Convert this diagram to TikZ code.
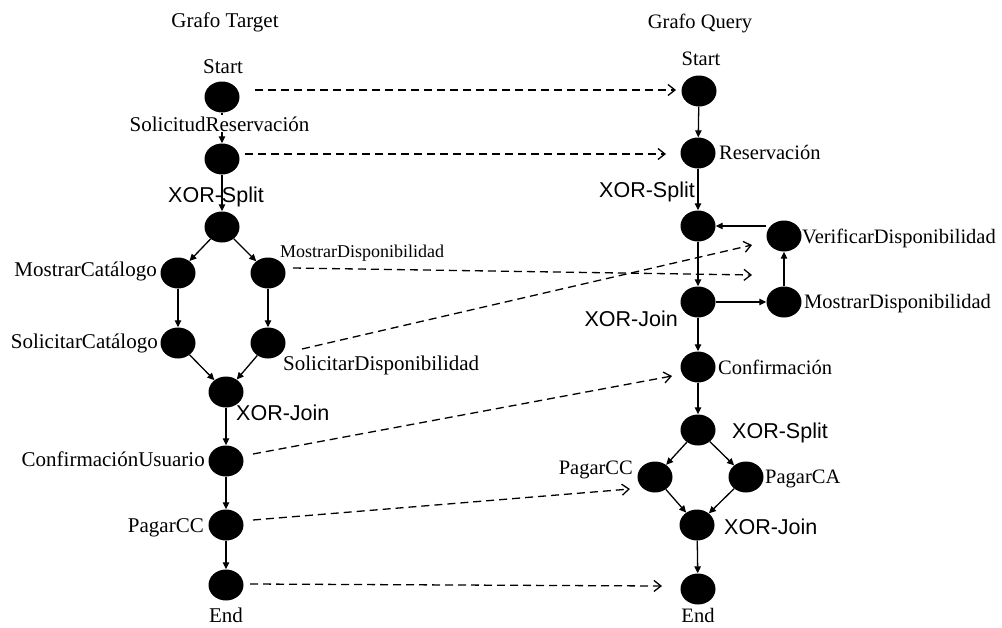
\documentclass[tikz,border=0pt]{standalone}
\usepackage{fontspec}
\setmainfont{Liberation Serif}
\newfontfamily\gatefont{Liberation Sans}
\usetikzlibrary{shapes.geometric,arrows.meta}
\begin{document}
\begin{tikzpicture}[x=1pt,y=-1pt,
  vtx/.style={ellipse,fill=black,minimum width=35pt,minimum height=31pt,inner sep=0pt},
  flow/.style={line width=1.3pt,-{Triangle[length=7pt,width=6.5pt]}},
  map/.style={line width=1.3pt,dash pattern=on 8pt off 5pt,-{Straight Barb[length=7pt,width=11pt,line width=1.3pt]}},
  lblL/.style={inner sep=0pt,font=\fontsize{21}{24}\selectfont},
  lblS/.style={inner sep=0pt,font=\fontsize{18}{21}\selectfont},
  lblR/.style={inner sep=0pt,font=\fontsize{20.5}{24}\selectfont},
  gate/.style={inner sep=0pt,font=\gatefont\fontsize{21.5}{24}\selectfont},
]
\useasboundingbox (0,0) rectangle (1002,627);

% ---- target graph vertices
\node[vtx] (T1)  at (222,97)  {};
\node[vtx] (T2)  at (222,159) {};
\node[vtx] (T3)  at (222,227) {};
\node[vtx] (T4)  at (178,273) {};
\node[vtx] (T5)  at (268,273) {};
\node[vtx] (T6)  at (178,343) {};
\node[vtx] (T7)  at (268,343) {};
\node[vtx] (T8)  at (226,392) {};
\node[vtx] (T9)  at (226,461) {};
\node[vtx] (T10) at (226,525) {};
\node[vtx] (T11) at (226,585) {};

% ---- query graph vertices
\node[vtx] (Q1)  at (699,91)  {};
\node[vtx] (Q2)  at (698,153) {};
\node[vtx] (Q3)  at (698,226) {};
\node[vtx] (Q4)  at (784,236) {};
\node[vtx] (Q5)  at (698,302) {};
\node[vtx] (Q6)  at (784,302) {};
\node[vtx] (Q7)  at (698,367) {};
\node[vtx] (Q8)  at (698,430) {};
\node[vtx] (Q9)  at (655,477) {};
\node[vtx] (Q10) at (746,477) {};
\node[vtx] (Q11) at (697,525) {};
\node[vtx] (Q12) at (698,589) {};

% ---- target graph flow
\draw[flow] (T1) -- (T2);
\draw[flow] (T2) -- (T3);
\draw[flow] (T3) -- (T4);
\draw[flow] (T3) -- (T5);
\draw[flow] (T4) -- (T6);
\draw[flow] (T5) -- (T7);
\draw[flow] (T6) -- (T8);
\draw[flow] (T7) -- (T8);
\draw[flow] (T8) -- (T9);
\draw[flow] (T9) -- (T10);
\draw[flow] (T10) -- (T11);

% ---- query graph flow
\draw[flow] (Q1) -- (Q2);
\draw[flow] (Q2) -- (Q3);
\draw[flow] (Q3) -- (Q5);
\draw[flow] (Q5) -- (Q6);
\draw[flow] (Q6) -- (Q4);
\draw[flow] (Q3.east -| Q4.west) -- (Q3.east);
\draw[flow] (Q5) -- (Q7);
\draw[flow] (Q7) -- (Q8);
\draw[flow] (Q8) -- (Q9);
\draw[flow] (Q8) -- (Q10);
\draw[flow] (Q9) -- (Q11);
\draw[flow] (Q10) -- (Q11);
\draw[flow] (Q11) -- (Q12);

% ---- mapping end points
\coordinate (m1s) at (255,90);  \coordinate (m1e) at (676,90);
\coordinate (m2s) at (245,154); \coordinate (m2e) at (666,154);
\coordinate (m3s) at (293,268); \coordinate (m3e) at (752,275);
\coordinate (m4s) at (302,349); \coordinate (m4e) at (752,245);
\coordinate (m5s) at (253,454); \coordinate (m5e) at (672,376);
\coordinate (m6s) at (253,520); \coordinate (m6e) at (630,489);
\coordinate (m7s) at (250,584); \coordinate (m7e) at (662,586);

% ---- mappings between the graphs
\draw[map] (m1s) -- (m1e);
\draw[map] (m2s) -- (m2e);
\draw[map] (m3s) -- (m3e);
\draw[map] (m4s) -- (m4e);
\draw[map] (m5s) -- (m5e);
\draw[map] (m6s) -- (m6e);
\draw[map] (m7s) -- (m7e);

% ---- target graph labels
\node[lblL,anchor=base] (tT) at (225,27) {Grafo Target};
\node[lblL,anchor=base] (lT1) at (223,73) {Start};
\node[lblL,anchor=base,fill=white,inner sep=1pt] (lT2) at (219.5,131) {SolicitudReservación};
\node[gate,anchor=base] (gT3) at (216,202) {XOR-Split};
\node[lblL,anchor=base east] (lT4) at (157,276) {MostrarCatálogo};
\node[lblS,anchor=base west] (lT5) at (280,257) {MostrarDisponibilidad};
\node[lblL,anchor=base east] (lT6) at (158,348) {SolicitarCatálogo};
\node[lblL,anchor=base west] (lT7) at (283,370) {SolicitarDisponibilidad};
\node[gate,anchor=base west] (gT8) at (236,420) {XOR-Join};
\node[lblL,anchor=base east] (lT9) at (205,466) {ConfirmaciónUsuario};
\node[lblL,anchor=base east] (lT10) at (204,532) {PagarCC};
\node[lblL,anchor=base] (lT11) at (226,622) {End};

% ---- query graph labels
\node[lblR,anchor=base] (tQ) at (700,28) {Grafo Query};
\node[lblR,anchor=base] (lQ1) at (701,65) {Start};
\node[lblR,anchor=base west] (lQ2) at (719,159) {Reservación};
\node[gate,anchor=base east] (gQ3) at (695,197) {XOR-Split};
\node[lblR,anchor=base west] (lQ4) at (802,243) {VerificarDisponibilidad};
\node[lblR,anchor=base west] (lQ6) at (804,308) {MostrarDisponibilidad};
\node[gate,anchor=base east] (gQ5) at (678,326) {XOR-Join};
\node[lblR,anchor=base west] (lQ7) at (718,374) {Confirmación};
\node[gate,anchor=base west] (gQ8) at (732,438) {XOR-Split};
\node[lblR,anchor=base east] (lQ9) at (633,474) {PagarCC};
\node[lblR,anchor=base west] (lQ10) at (765,483) {PagarCA};
\node[gate,anchor=base west] (gQ11) at (724,534) {XOR-Join};
\node[lblR,anchor=base] (lQ12) at (698,622) {End};
\end{tikzpicture}
\end{document}
